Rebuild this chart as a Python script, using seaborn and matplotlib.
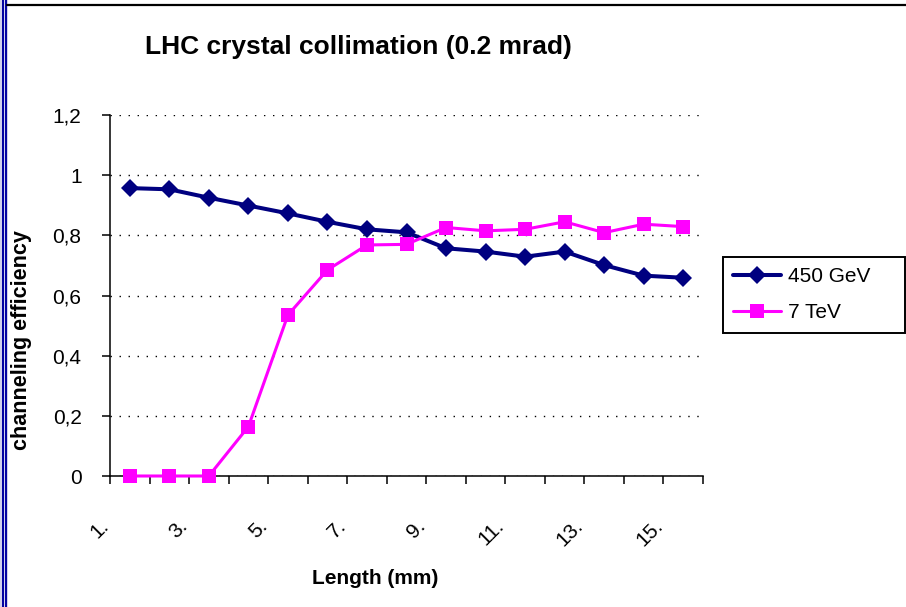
import matplotlib
matplotlib.use("Agg")
import matplotlib.pyplot as plt
import matplotlib.transforms as mtransforms
from matplotlib.lines import Line2D
from matplotlib.patches import Rectangle
from matplotlib.ticker import FixedLocator, FixedFormatter, NullFormatter
import pandas as pd
import seaborn as sns

# Crystal length categories (every other one is labelled on the axis)
lengths = ["1.", "2.", "3.", "4.", "5.", "6.", "7.", "8.",
           "9.", "10.", "11.", "12.", "13.", "14.", "15."]

# Channeling efficiency per beam energy
eff_450gev = [0.957, 0.953, 0.925, 0.899, 0.873, 0.845, 0.820, 0.810,
              0.757, 0.746, 0.729, 0.746, 0.701, 0.666, 0.659]
eff_7tev = [0.0, 0.0, 0.0, 0.164, 0.535, 0.685, 0.768, 0.770,
            0.826, 0.815, 0.820, 0.845, 0.809, 0.837, 0.829]

series_names = ["450 GeV", "7 TeV"]
y_ticks = [0.0, 0.2, 0.4, 0.6, 0.8, 1.0, 1.2]
y_tick_labels = ["0", "0,2", "0,4", "0,6", "0,8", "1", "1,2"]

positions = list(range(1, len(lengths) + 1))
df = pd.DataFrame({
    "pos": positions * 2,
    "efficiency": eff_450gev + eff_7tev,
    "beam": [series_names[0]] * len(positions) + [series_names[1]] * len(positions),
})

sns.set_theme(style="white")
plt.rcParams["font.family"] = ["Liberation Sans", "DejaVu Sans"]
plt.rcParams.update({"text.color": "black", "axes.labelcolor": "black",
                     "xtick.color": "black", "ytick.color": "black"})

W, H = 906, 607
fig = plt.figure(figsize=(W / 100, H / 100), dpi=100)
fig.patch.set_facecolor("white")


def fx(px):
    return px / W


def fy(py):
    return 1 - py / H


ax = fig.add_axes([fx(110), fy(476), fx(703) - fx(110), fy(115) - fy(476)])

styles = {
    "450 GeV": dict(color="#000080", marker="D", markersize=9.6, linewidth=2.9),
    "7 TeV": dict(color="#FF00FF", marker="s", markersize=10.4, linewidth=2.2),
}
for name in series_names:
    sub = df[df["beam"] == name]
    st = styles[name]
    sns.lineplot(data=sub, x="pos", y="efficiency", ax=ax, color=st["color"],
                 marker=st["marker"], markersize=st["markersize"],
                 linewidth=st["linewidth"], markeredgewidth=0,
                 label=name, legend=False, clip_on=False, zorder=3)

ax.set_xlim(0.5, len(lengths) + 0.5)
ax.set_ylim(0, 1.2)
ax.set_xlabel("")
ax.set_ylabel("")

# Spines
for side in ("top", "right"):
    ax.spines[side].set_visible(False)
for side in ("left", "bottom"):
    ax.spines[side].set_color("black")
    ax.spines[side].set_linewidth(1.1)
    ax.spines[side].set_zorder(2)

# Y axis
ax.set_yticks(y_ticks)
ax.set_yticklabels(y_tick_labels)
ax.tick_params(axis="y", which="major", direction="out", length=5.5, width=1.1,
               color="black", labelcolor="black", labelsize=15, pad=15, left=True)
ax.yaxis.grid(True, linestyle=(0, (1, 5.5)), linewidth=1.0, color="black")
ax.xaxis.grid(False)
ax.set_axisbelow(True)

# X axis: tick marks on category boundaries, labels on every other category
bounds = [p - 0.5 for p in positions] + [positions[-1] + 0.5]
ax.xaxis.set_major_locator(FixedLocator(bounds))
ax.xaxis.set_major_formatter(NullFormatter())
label_pos = positions[::2]
ax.xaxis.set_minor_locator(FixedLocator(label_pos))
ax.xaxis.set_minor_formatter(FixedFormatter([lengths[p - 1] for p in label_pos]))
ax.tick_params(axis="x", which="major", direction="out", length=5.5, width=1.1,
               color="black", bottom=True)
ax.tick_params(axis="x", which="minor", length=0, labelsize=15, labelcolor="black",
               pad=29, bottom=True)
shift = mtransforms.ScaledTranslation(-17 / 100, 0, fig.dpi_scale_trans)
for lab in ax.xaxis.get_minorticklabels():
    lab.set_rotation(45)
    lab.set_ha("right")
    lab.set_va("top")
    lab.set_transform(lab.get_transform() + shift)

# Legend
handles, labels = ax.get_legend_handles_labels()
leg = ax.legend(handles, labels, loc="upper left",
                bbox_to_anchor=(fx(723), fy(332), fx(905) - fx(723), fy(257) - fy(332)),
                bbox_transform=fig.transFigure, mode="expand", borderaxespad=0,
                frameon=True, fancybox=False, framealpha=1, edgecolor="black",
                fontsize=15, handlelength=2.3, handletextpad=0.3,
                labelspacing=0.8, borderpad=0.5)
leg.get_frame().set_linewidth(1.4)
for t in leg.get_texts():
    t.set_color("black")

# Titles
fig.text(fx(358), fy(47), "LHC crystal collimation (0.2 mrad)", ha="center", va="center",
         fontsize=19, fontweight="bold", color="black")
fig.text(fx(375), fy(579), "Length (mm)", ha="center", va="center",
         fontsize=15, fontweight="bold", color="black")
fig.text(fx(22), fy(340), "channeling efficiency", ha="center", va="center",
         rotation=90, fontsize=15.5, fontweight="bold", color="black")

# Frame lines around the chart area
fig.add_artist(Rectangle((0, 0), fx(8), 1, transform=fig.transFigure,
                         facecolor="#d4d4ec", edgecolor="none"))
for xp in (2.7, 5.7):
    fig.add_artist(Line2D([fx(xp), fx(xp)], [0, 1], transform=fig.transFigure,
                          color="#0000a0", linewidth=1.4))
fig.add_artist(Line2D([fx(7), 1], [fy(5.3), fy(5.3)], transform=fig.transFigure,
                      color="black", linewidth=1.6))

fig.savefig("out.png", dpi=100, facecolor="white")
